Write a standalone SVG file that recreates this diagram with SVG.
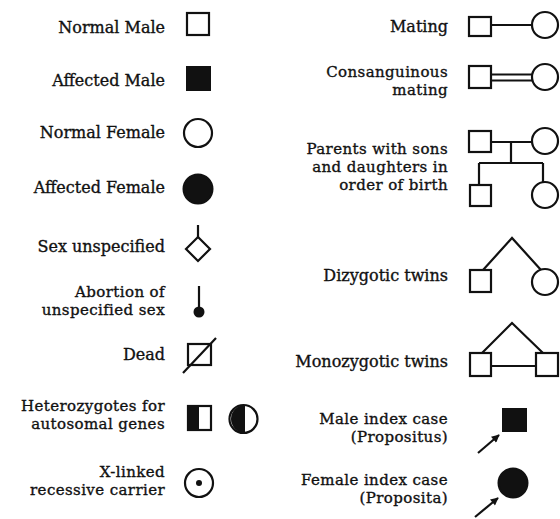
<svg xmlns="http://www.w3.org/2000/svg" width="560" height="519" viewBox="0 0 560 519">
<style>
text{font-family:"DejaVu Serif","Liberation Serif",serif;font-size:16px;fill:#111;stroke:#111;stroke-width:0.35;text-anchor:end}
text.m{font-size:15px;letter-spacing:0.4px}
.s{fill:#fff;stroke:#111;stroke-width:2.2}
.f{fill:#111;stroke:#111;stroke-width:2}
.l{fill:none;stroke:#111;stroke-width:2.2}
</style>
<defs>
<marker id="ah" viewBox="0 0 10 10" refX="9" refY="5" markerWidth="4" markerHeight="3.6" orient="auto" markerUnits="strokeWidth">
<path d="M0,0 L10,5 L0,10 z" fill="#111"/>
</marker>
</defs>
<rect width="560" height="519" fill="#fff"/>

<g id="normal-male"><text x="165" y="33">Normal Male</text><rect class="s" x="187" y="13" width="22" height="22"/></g>
<g id="affected-male"><text x="165" y="86">Affected Male</text><rect class="f" x="187" y="67" width="23" height="23"/></g>
<g id="normal-female"><text x="165" y="138">Normal Female</text><circle class="s" cx="198" cy="133" r="14"/></g>
<g id="affected-female"><text x="165" y="193">Affected Female</text><circle class="f" cx="198" cy="189" r="14.5"/></g>
<g id="sex-unspecified"><text x="165" y="252">Sex unspecified</text><path class="l" d="M198,225 V237"/><path class="s" d="M198,237 L210,249 L198,261 L186,249 Z"/></g>
<g id="abortion"><text class="m" x="165" y="297">Abortion of</text><text class="m" x="165" y="315">unspecified sex</text><path class="l" d="M199,286 V310" stroke-width="2.6"/><circle class="f" cx="199" cy="312" r="4.5"/></g>
<g id="dead"><text x="165" y="360">Dead</text><rect class="s" x="188" y="344" width="23" height="21"/><path class="l" d="M183,373 L216,338"/></g>
<g id="heterozygotes"><text class="m" x="165" y="411">Heterozygotes for</text><text class="m" x="165" y="429">autosomal genes</text>
<rect class="s" x="188" y="406" width="23" height="24"/><rect fill="#111" x="188" y="406" width="11" height="24"/>
<circle class="s" cx="243.5" cy="419" r="14"/><path fill="#111" d="M245,405 A14,14 0 0 0 245,433 Z"/></g>
<g id="x-linked-carrier"><text class="m" x="165" y="477">X-linked</text><text class="m" x="165" y="495">recessive carrier</text><circle class="s" cx="199" cy="483" r="14"/><circle fill="#111" cx="199" cy="483" r="3"/></g>

<g id="mating"><text x="448" y="32">Mating</text><rect class="s" x="469" y="17" width="22" height="19"/><circle class="s" cx="545" cy="25" r="13"/></g>
<g id="consanguinous"><text class="m" x="448" y="77">Consanguinous</text><text class="m" x="448" y="95">mating</text><rect class="s" x="469" y="66" width="22" height="22"/><circle class="s" cx="545" cy="77" r="13"/></g>
<g id="parents"><text class="m" x="448" y="154">Parents with sons</text><text class="m" x="448" y="172">and daughters in</text><text class="m" x="448" y="190">order of birth</text>
<rect class="s" x="469" y="131" width="22" height="21"/><circle class="s" cx="545" cy="141" r="13"/>
<rect class="s" x="470" y="185" width="21" height="21"/><circle class="s" cx="545" cy="195" r="13"/></g>
<g id="dizygotic"><text x="448" y="281">Dizygotic twins</text><rect class="s" x="470" y="270" width="21" height="22"/><circle class="s" cx="545" cy="282" r="13"/></g>
<g id="monozygotic"><text x="448" y="367">Monozygotic twins</text><rect class="s" x="470" y="353" width="21" height="23"/><rect class="s" x="536" y="353" width="22" height="23"/></g>
<g id="male-index"><text class="m" x="448" y="424">Male index case</text><text class="m" x="448" y="442">(Propositus)</text><rect class="f" x="503" y="409" width="23" height="22"/></g>
<g id="female-index"><text class="m" x="448" y="485">Female index case</text><text class="m" x="448" y="503">(Proposita)</text><circle class="f" cx="513" cy="483" r="14.5"/></g>

<g id="connectors">
<path class="l" d="M491,25 H532"/>
<path class="l" d="M491,74.5 H532 M491,80.5 H532"/>
<path class="l" d="M491,142 H532 M511,142 V163 M479,163 H543 M479,163 V185 M543,163 V182"/>
<path class="l" d="M483,270 L512,238 L541,270"/>
<path class="l" d="M482,353 L512,323 L543,353 M491,366 H536"/>
<path class="l" d="M478,453 L499,435" marker-end="url(#ah)"/>
<path class="l" d="M475,517 L498,498" marker-end="url(#ah)"/>
</g>
</svg>
